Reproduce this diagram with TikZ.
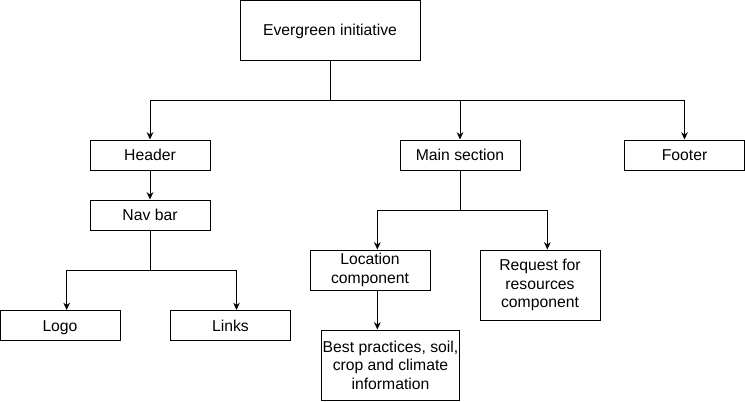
\documentclass[tikz,border=0pt]{standalone}
\usepackage{fontspec}
\setmainfont{Liberation Sans}
\usetikzlibrary{arrows.meta, positioning, calc}
\tikzset{
	block/.style={rectangle, draw=black, line width=0.75pt, align=center, text centered, font=\fontsize{11.8}{13.9}\selectfont, inner sep=0.2pt},
	oneline/.style={block, text height=1.9ex, text depth=0.2ex},
	flowarrow/.style={-{Stealth[length=5.5pt, width=5pt]}, line width=0.75pt},
	flowline/.style={line width=0.75pt},
}
\begin{document}
\begin{tikzpicture}[x=0.75pt, y=-0.75pt]
	\useasboundingbox (0,0) rectangle (745,401);
	% top level
	\node[oneline, minimum width=135pt, minimum height=45pt] (top) at (330,30) {Evergreen initiative};
	\node[oneline, minimum width=90pt, minimum height=22.5pt] (header) at (150,155) {Header};
	\node[oneline, minimum width=90pt, minimum height=22.5pt] (main) at (460,155) {Main section};
	\node[oneline, minimum width=90pt, minimum height=22.5pt] (footer) at (684.5,155) {Footer};
	% header branch
	\node[oneline, minimum width=90pt, minimum height=22.5pt] (nav) at (150,215) {Nav bar};
	\node[oneline, minimum width=90pt, minimum height=22.5pt] (logo) at (60,325.5) {Logo};
	\node[oneline, minimum width=90pt, minimum height=22.5pt] (links) at (230.5,325.5) {Links};
	% main branch
	\node[block, minimum width=90pt, minimum height=30pt] (loc) at (370,270) {Location\\component};
	\node[block, minimum width=90pt, minimum height=52.5pt] (req) at (540,285) {Request for\\resources\\component};
	\node[block, minimum width=104pt, minimum height=52.5pt] (best) at (390.5,365) {Best practices, soil,\\crop and climate\\information};
	% junctions
	\coordinate (jtop) at (330,100);
	\coordinate (jnav) at (150,270);
	\coordinate (jmain) at (460,210);
	% connectors
	\draw[flowline] (top.south) -- (jtop);
	\draw[flowarrow] (jtop) -| (header.north);
	\draw[flowarrow] (jtop) -| (main.north);
	\draw[flowarrow] (jtop) -| (footer.north);
	\draw[flowarrow] (header.south) -- (nav.north);
	\draw[flowline] (nav.south) -- (jnav);
	\draw[flowarrow] (jnav) -| ([xshift=5]logo.north);
	\draw[flowarrow] (jnav) -| ([xshift=4.5]links.north);
	\draw[flowline] (main.south) -- (jmain);
	\draw[flowarrow] (jmain) -| ([xshift=5.5]loc.north);
	\draw[flowarrow] (jmain) -| ([xshift=5.5]req.north);
	\draw[flowarrow] ([xshift=5.5]loc.south) -- ([xshift=5.5]loc.south |- best.north);
\end{tikzpicture}
\end{document}
